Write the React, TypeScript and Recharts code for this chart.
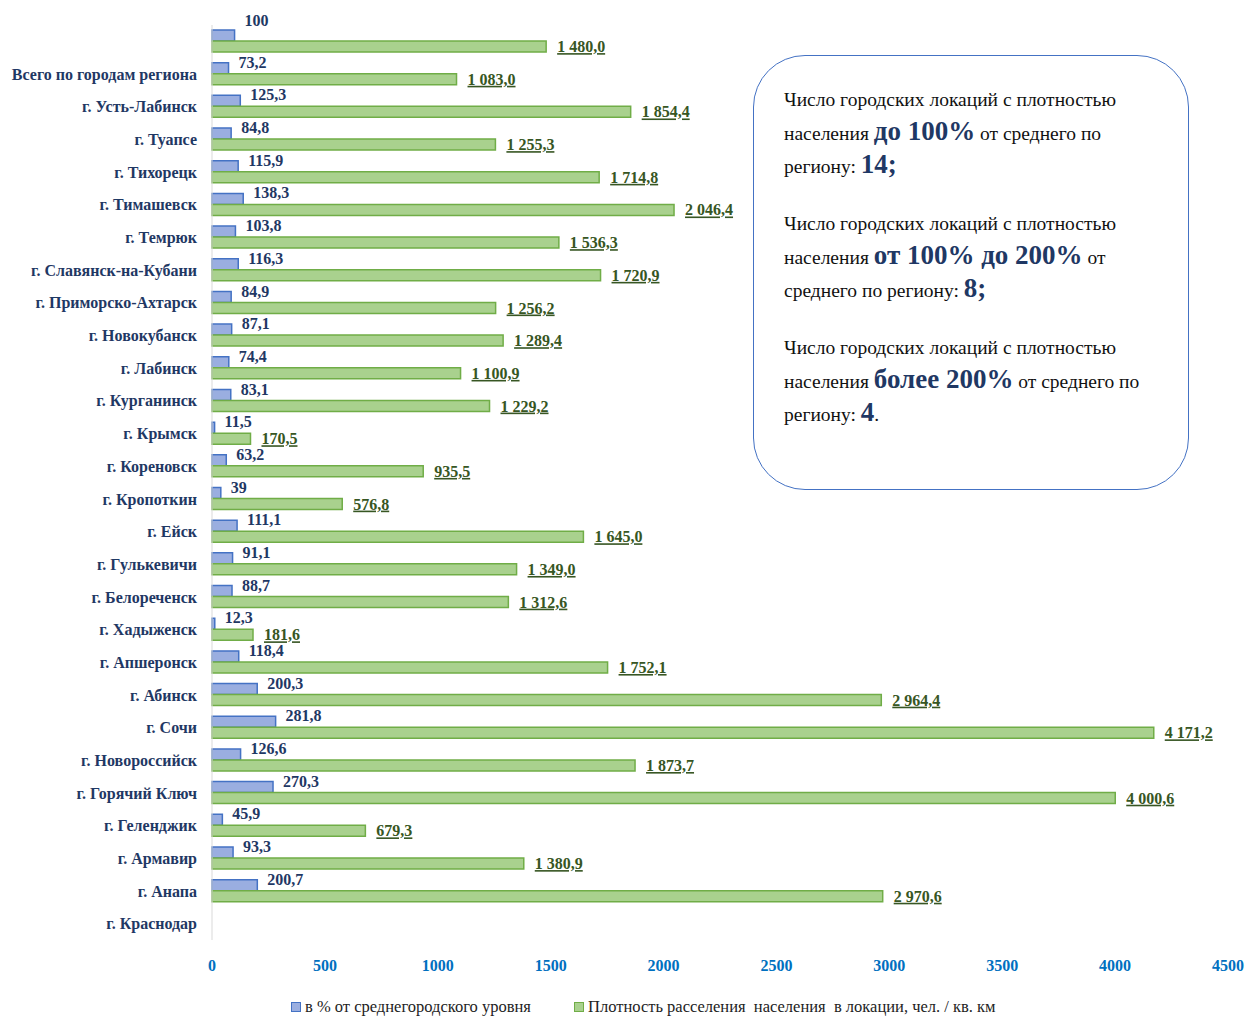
import React from "react"
import { BarChart, Bar, XAxis, YAxis, Legend, LabelList } from "recharts"

const FONT = "'Liberation Serif', 'Times New Roman', serif"
const NAVY = "#1f3864"
const DARK_GREEN = "#375623"

// labels as they sit on the axis (one slot below their bars, as in the source)
const cityLabels = [
  "Всего по городам региона",
  "г. Усть-Лабинск",
  "г. Туапсе",
  "г. Тихорецк",
  "г. Тимашевск",
  "г. Темрюк",
  "г. Славянск-на-Кубани",
  "г. Приморско-Ахтарск",
  "г. Новокубанск",
  "г. Лабинск",
  "г. Курганинск",
  "г. Крымск",
  "г. Кореновск",
  "г. Кропоткин",
  "г. Ейск",
  "г. Гулькевичи",
  "г. Белореченск",
  "г. Хадыженск",
  "г. Апшеронск",
  "г. Абинск",
  "г. Сочи",
  "г. Новороссийск",
  "г. Горячий Ключ",
  "г. Геленджик",
  "г. Армавир",
  "г. Анапа",
  "г. Краснодар",
]

const pctValues = [
  100, 73.2, 125.3, 84.8, 115.9, 138.3, 103.8, 116.3, 84.9, 87.1, 74.4, 83.1, 11.5, 63.2,
  39, 111.1, 91.1, 88.7, 12.3, 118.4, 200.3, 281.8, 126.6, 270.3, 45.9, 93.3, 200.7,
]

const densityValues = [
  1480.0, 1083.0, 1854.4, 1255.3, 1714.8, 2046.4, 1536.3, 1720.9, 1256.2, 1289.4, 1100.9,
  1229.2, 170.5, 935.5, 576.8, 1645.0, 1349.0, 1312.6, 181.6, 1752.1, 2964.4, 4171.2, 1873.7,
  4000.6, 679.3, 1380.9, 2970.6,
]

const xTicks = [0, 500, 1000, 1500, 2000, 2500, 3000, 3500, 4000, 4500]

const seriesNames = [
  "в % от среднегородского уровня",
  "Плотность расселения  населения  в локации, чел. / кв. км",
]

const rows = Array.from({ length: cityLabels.length + 1 }, (_, i) => ({
  name: i === 0 ? "" : cityLabels[i - 1],
  pct: pctValues[i],
  density: densityValues[i],
}))

const fmtPct = (v: number) => (Number.isInteger(v) ? String(v) : v.toFixed(1).replace(".", ","))
const fmtDensity = (v: number) => {
  const [int, dec] = v.toFixed(1).split(".")
  return int.replace(/\B(?=(\d{3})+(?!\d))/g, " ") + "," + dec
}

const PctLabel = (props: any) => {
  const { x, y, width, height, value, index } = props
  if (value == null) return null
  const lift = index === 0 ? 15 : 6
  return (
    <text x={x + width + 10} y={y + height / 2 - lift} dy="0.35em" fill={NAVY}
      fontFamily={FONT} fontWeight="bold" fontSize={16}>
      {fmtPct(value)}
    </text>
  )
}

const DensityLabel = (props: any) => {
  const { x, y, width, height, value } = props
  if (value == null) return null
  return (
    <text x={x + width + 11} y={y + height / 2} dy="0.35em" fill={DARK_GREEN}
      fontFamily={FONT} fontWeight="bold" fontSize={16} textDecoration="underline">
      {fmtDensity(value)}
    </text>
  )
}

const LegendContent = () => (
  <div style={{ display: "flex", fontFamily: FONT, fontSize: 16.5, color: "#222", paddingLeft: 291, lineHeight: "20px" }}>
    <span style={{ display: "flex", alignItems: "center", width: 283 }}>
      <span style={{ width: 8, height: 8, background: "#9aaee0", border: "1px solid #4472c4", marginRight: 4 }} />
      {seriesNames[0]}
    </span>
    <span style={{ display: "flex", alignItems: "center", whiteSpace: "pre" }}>
      <span style={{ width: 8, height: 8, background: "#a9d18e", border: "1px solid #70ad47", marginRight: 4 }} />
      {seriesNames[1]}
    </span>
  </div>
)

const B = ({ children }: any) => (
  <b style={{ color: NAVY, fontSize: 27, lineHeight: "28px" }}>{children}</b>
)

export default function App() {
  return (
    <div style={{ position: "absolute", left: 0, top: 0, width: 1250, height: 1017, background: "#fff" }}>
      <BarChart width={1250} height={1017} data={rows} layout="vertical"
        margin={{ top: 25, right: 22, bottom: 0, left: 0 }} barGap={0}>
        <XAxis type="number" domain={[0, 4500]} ticks={xTicks} axisLine={false} tickLine={false}
          tickSize={0} tickMargin={20} height={57} interval={0}
          tick={{ fill: "#0070c0", fontSize: 16, fontWeight: "bold", fontFamily: FONT }} />
        <YAxis type="category" dataKey="name" width={212} tickLine={false} tickSize={0} tickMargin={15}
          axisLine={{ stroke: "#d9d9d9" }} interval={0}
          tick={{ fill: NAVY, fontSize: 16, fontWeight: "bold", fontFamily: FONT }} />
        <Legend verticalAlign="bottom" height={20} content={<LegendContent />} />
        <Bar dataKey="pct" name={seriesNames[0]} barSize={11} fill="#9aaee0" stroke="#4472c4"
          strokeWidth={1.5} isAnimationActive={false}>
          <LabelList dataKey="pct" content={<PctLabel />} />
        </Bar>
        <Bar dataKey="density" name={seriesNames[1]} barSize={11} fill="#a9d18e" stroke="#70ad47"
          strokeWidth={1.5} isAnimationActive={false}>
          <LabelList dataKey="density" content={<DensityLabel />} />
        </Bar>
      </BarChart>
      <div style={{
        position: "absolute", left: 753, top: 55, width: 436, height: 435, boxSizing: "border-box",
        border: "1.5px solid #4472c4", borderRadius: 52, background: "#fff",
        padding: "27px 16px 0 30px", fontFamily: FONT, fontSize: 19.5, color: "#111", lineHeight: "33.5px",
      }}>
        <p style={{ margin: 0 }}>
          Число городских локаций  с плотностью населения <B>до 100%</B> от среднего по региону: <B>14;</B>
        </p>
        <p style={{ margin: "23.5px 0 0" }}>
          Число городских локаций  с плотностью населения <B>от 100% до 200%</B> от среднего по региону: <B>8;</B>
        </p>
        <p style={{ margin: "23.5px 0 0" }}>
          Число городских локаций  с плотностью населения <B>более 200%</B> от среднего по региону: <B>4</B>.
        </p>
      </div>
    </div>
  )
}
